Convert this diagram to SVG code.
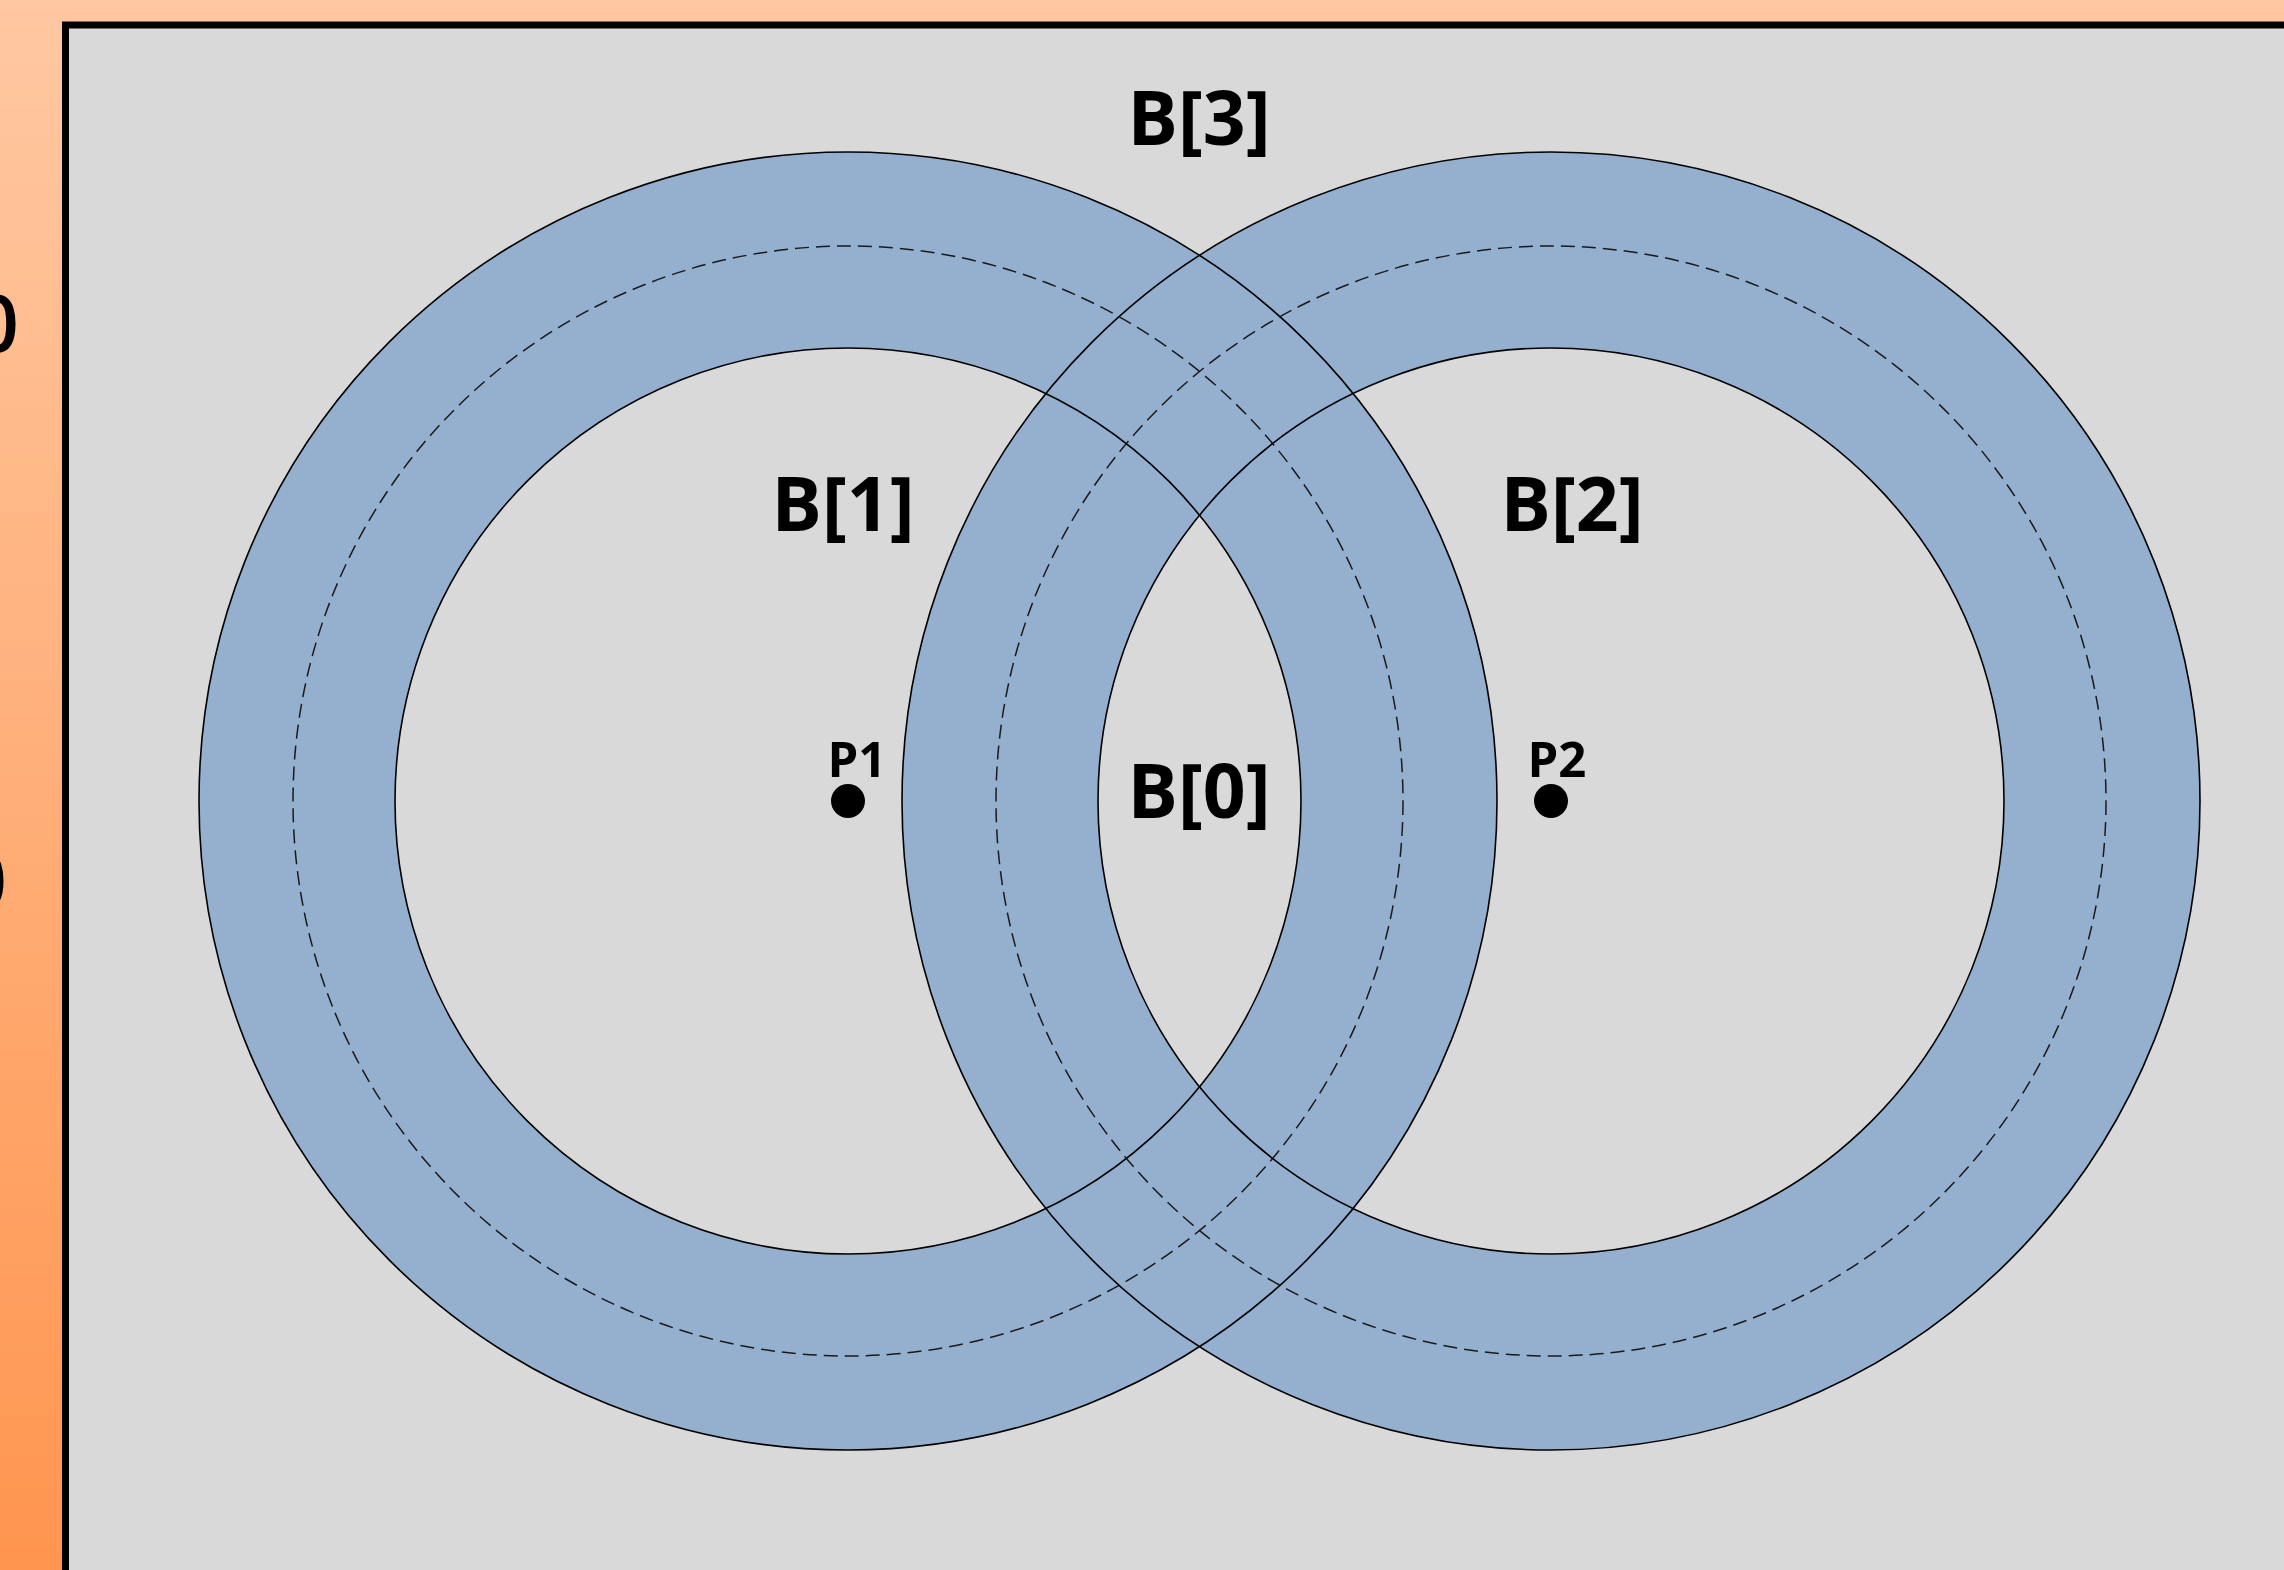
<svg xmlns="http://www.w3.org/2000/svg" width="2284" height="1570" viewBox="0 0 2284 1570">
<defs>
<linearGradient id="bg" x1="0" y1="0" x2="0" y2="1">
<stop offset="0" stop-color="#FFC8A2"/>
<stop offset="1" stop-color="#FF954F"/>
</linearGradient>
</defs>
<style>
.ring{fill:#95AFCF;fill-rule:evenodd;stroke:none}
.edge{fill:none;stroke:#000;stroke-width:1.6}
.dash{fill:none;stroke:#1a1a1a;stroke-width:1.5;stroke-dasharray:14 7}
.lbl{font-family:"Open Sans","Liberation Sans",sans-serif;font-weight:700;fill:#000;text-anchor:middle}
.side{font-family:"Open Sans","Liberation Sans",sans-serif;font-size:80px;font-weight:600;fill:#000;text-anchor:end}
</style>
<rect x="0" y="0" width="2284" height="1570" fill="url(#bg)"/>
<text class="side" x="19" y="352">0</text>
<text class="side" x="7" y="909">0</text>
<rect x="65.5" y="25" width="2300" height="1600" fill="#D9D9D9" stroke="#000" stroke-width="7"/>
<g id="fills">
<path class="ring" d="M199,801a649,649 0 1,0 1298,0a649,649 0 1,0 -1298,0Z M395,801a453,453 0 1,0 906,0a453,453 0 1,0 -906,0Z"/>
<path class="ring" d="M902,801a649,649 0 1,0 1298,0a649,649 0 1,0 -1298,0Z M1098,801a453,453 0 1,0 906,0a453,453 0 1,0 -906,0Z"/>
</g>
<g id="B1">
<circle class="edge" cx="848" cy="801" r="649"/>
<circle class="edge" cx="848" cy="801" r="453"/>
<circle class="dash" cx="848" cy="801" r="555"/>
</g>
<g id="B2">
<circle class="edge" cx="1551" cy="801" r="649"/>
<circle class="edge" cx="1551" cy="801" r="453"/>
<circle class="dash" cx="1551" cy="801" r="555"/>
</g>
<g id="P1">
<circle cx="848" cy="801" r="17" fill="#000"/>
<text class="lbl" x="857" y="777" font-size="49">P1</text>
</g>
<g id="P2">
<circle cx="1551" cy="801" r="17" fill="#000"/>
<text class="lbl" x="1557" y="777" font-size="49">P2</text>
</g>
<g id="labels">
<text class="lbl" x="1199" y="145" font-size="75">B[3]</text>
<text class="lbl" x="843" y="531" font-size="75">B[1]</text>
<text class="lbl" x="1572" y="531" font-size="75">B[2]</text>
<text class="lbl" x="1199" y="818" font-size="75">B[0]</text>
</g>
<g id="connectors"></g>
</svg>
